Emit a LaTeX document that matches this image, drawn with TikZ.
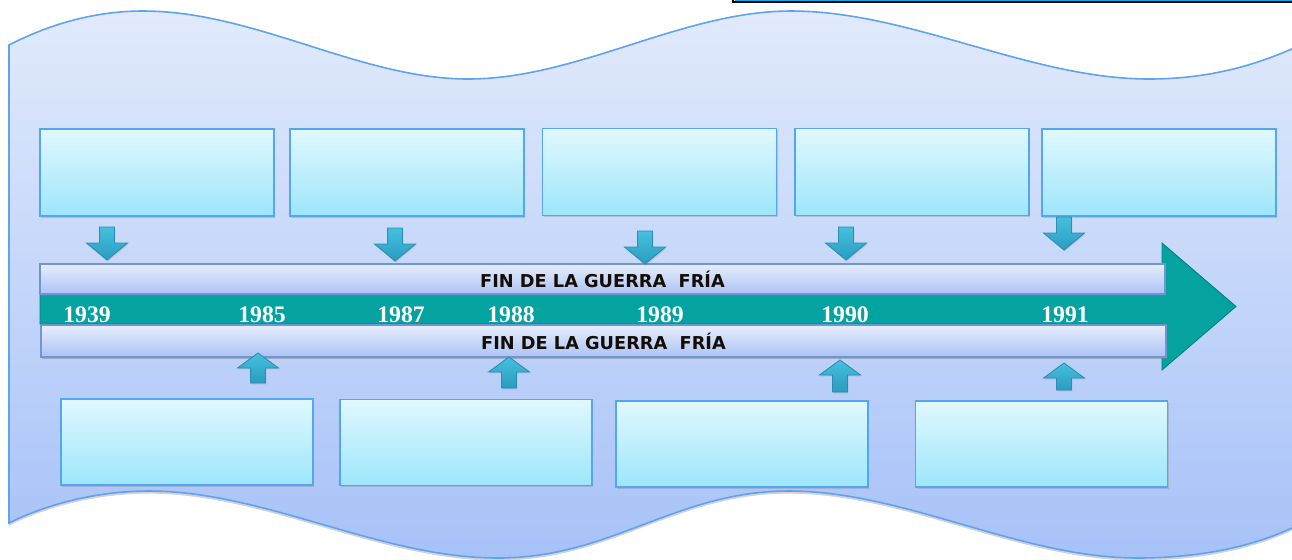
\documentclass[tikz,border=0pt]{standalone}
\usepackage{fontspec}
\setmainfont{Liberation Serif}
\newfontfamily\barfont{DejaVu Sans}
\usetikzlibrary{shadows}

\definecolor{bgtop}{HTML}{E1EAFC}
\definecolor{bgbot}{HTML}{A7C2F8}
\definecolor{bgline}{HTML}{5EA2F2}
\definecolor{boxtop}{HTML}{E0F8FF}
\definecolor{boxbot}{HTML}{9DE6FB}
\definecolor{boxline}{HTML}{55A6F2}
\definecolor{bartop}{HTML}{E6EDFD}
\definecolor{barbot}{HTML}{ADC2F5}
\definecolor{barline}{HTML}{7096D2}
\definecolor{tealband}{HTML}{04A39F}
\definecolor{tealdark}{HTML}{02807C}
\definecolor{arrtop}{HTML}{45C0DE}
\definecolor{arrbot}{HTML}{2A9CC0}
\definecolor{arrline}{HTML}{2C8EAE}

\begin{document}
\begin{tikzpicture}[x=0.02cm, y=-0.02cm,
  box/.style={draw=boxline, line width=0.9pt, top color=boxtop, bottom color=boxbot,
    inner sep=0pt, outer sep=0pt,
    drop shadow={shadow xshift=0.6pt, shadow yshift=-1pt, opacity=0.3}},
  topbox/.style={box, minimum width=4.68cm, minimum height=1.74cm},
  lowbox/.style={box, minimum width=5.04cm, minimum height=1.72cm},
  bar/.style={draw=barline, line width=0.7pt, top color=bartop, bottom color=barbot,
    inner sep=0pt, outer sep=0pt, minimum width=22.5cm,
    font=\barfont\bfseries\fontsize{10.1}{11}\selectfont, text=black!90!brown,
    drop shadow={shadow xshift=0.5pt, shadow yshift=-1.2pt, opacity=0.45}},
  year/.style={anchor=base, inner sep=0pt, text=white,
    font=\bfseries\fontsize{13.5}{14}\selectfont},
  blockarrow/.style={draw=arrline, line width=0.5pt, top color=arrtop, bottom color=arrbot,
    drop shadow={shadow xshift=0.5pt, shadow yshift=-0.8pt, opacity=0.25}}]
  \useasboundingbox (0,0) rectangle (1292,559);

  % wavy background
  \draw[draw=bgline, line width=0.9pt, top color=bgtop, bottom color=bgbot,
    drop shadow={shadow xshift=0pt, shadow yshift=-1.5pt, opacity=0.35}]
    (9,45) .. controls (50,24) and (95,11) .. (143,11)
    .. controls (255,11) and (360,79) .. (468,79)
    .. controls (578,79) and (682,11) .. (791,11)
    .. controls (910,11) and (1030,79) .. (1149,79)
    .. controls (1215,79) and (1262,62) .. (1294,48)
    -- (1294,527)
    .. controls (1250,548) and (1195,558) .. (1138,558)
    .. controls (1020,558) and (905,491) .. (789,491)
    .. controls (675,491) and (612,558) .. (498,558)
    .. controls (380,558) and (265,491) .. (149,491)
    .. controls (95,491) and (45,505) .. (9,523) -- cycle;

  % box at the top edge
  \draw[black, line width=1.2pt, fill=white] (733,-20) rectangle (1310,1.8);
  \draw[cyan, line width=0.4pt] (735,0.2) -- (1300,0.2);

  % boxes above the line
  \node[topbox] (t1) at (157,172.5) {};
  \node[topbox] (t2) at (407,172.5) {};
  \node[topbox] (t3) at (659.5,172) {};
  \node[topbox] (t4) at (912,172) {};
  \node[topbox] (t5) at (1159,172.5) {};

  % boxes below the line
  \node[lowbox] (b1) at (187,442) {};
  \node[lowbox] (b2) at (466,442.5) {};
  \node[lowbox] (b3) at (742,444) {};
  \node[lowbox] (b4) at (1041.5,444) {};

  % timeline arrow
  \draw[fill=tealband, draw=tealdark, line width=0.5pt]
    (40,289) -- (1162,289) -- (1162,243) -- (1236,306.5) -- (1162,370)
    -- (1162,324) -- (40,324) -- cycle;

  \node[bar, minimum height=0.6cm] (bartop) at (602.5,279) {FIN DE LA GUERRA~ FRÍA};
  \node[bar, minimum height=0.64cm] (barbot) at (603.5,341) {FIN DE LA GUERRA~ FRÍA};

  % years
  \node[year] (y1939) at (87,322) {1939};
  \node[year] (y1985) at (262,322) {1985};
  \node[year] (y1987) at (401,322) {1987};
  \node[year] (y1988) at (511,322) {1988};
  \node[year] (y1989) at (660,322) {1989};
  \node[year] (y1990) at (845,322) {1990};
  \node[year] (y1991) at (1065,322) {1991};

  % arrows down to the line
  \foreach \x/\y in {107/227, 395/228, 645/231, 846/227, 1064/217}
    \draw[blockarrow] (\x-7.5,\y) -- (\x+7.5,\y) -- (\x+7.5,\y+16) -- (\x+20.5,\y+16)
      -- (\x,\y+33) -- (\x-20.5,\y+16) -- (\x-7.5,\y+16) -- cycle;

  % arrows up to the line
  \foreach \x/\y/\b in {258/353/383, 509/357/388, 840/360/392, 1064/363/390}
    \draw[blockarrow] (\x,\y) -- (\x+20.5,\y+15) -- (\x+7.5,\y+15) -- (\x+7.5,\b)
      -- (\x-7.5,\b) -- (\x-7.5,\y+15) -- (\x-20.5,\y+15) -- cycle;
\end{tikzpicture}
\end{document}
